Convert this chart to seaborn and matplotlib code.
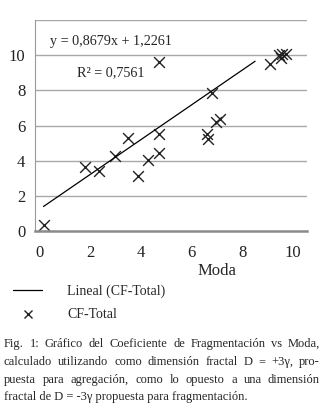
import numpy as np
import pandas as pd
import matplotlib
matplotlib.use("Agg")
import matplotlib.pyplot as plt
import seaborn as sns
from matplotlib.lines import Line2D

# values
moda = [0.2, 1.8, 2.35, 3.0, 3.5, 3.9, 4.3, 4.7, 4.7, 4.7, 6.6, 6.65, 6.8, 6.95, 7.1,
        9.1, 9.45, 9.5, 9.55, 9.7]
cf_total = [0.35, 3.65, 3.4, 4.25, 5.3, 3.1, 4.05, 4.45, 5.5, 9.6, 5.5, 5.25, 7.85, 6.2, 6.4,
            9.5, 10.0, 9.85, 10.1, 10.05]
trend_x = [0.17, 8.5]
trend_y = [1.39, 9.66]
eq_text = "y = 0,8679x + 1,2261"
r2_text = "R² = 0,7561"
caption = [
    "Fig. 1: Gráfico del Coeficiente de Fragmentación vs Moda,",
    "calculado utilizando como dimensión fractal D = +3γ, pro-",
    "puesta para agregación, como lo opuesto a una dimensión",
    "fractal de D = -3γ propuesta para fragmentación.",
]

df = pd.DataFrame({"Moda": moda, "CF-Total": cf_total})

sns.set_style("white")
plt.rcParams["font.family"] = ["Liberation Serif", "DejaVu Serif"]

fig = plt.figure(figsize=(3.22, 4.03), dpi=100)
ax = fig.add_axes([0.109, 0.427, 0.845, 0.523])

sns.lineplot(x=trend_x, y=trend_y, ax=ax, color="black", linewidth=0.9)
sns.scatterplot(data=df, x="Moda", y="CF-Total", ax=ax, marker="x", s=60,
                color="#222222", linewidth=1.0)

ax.set_xlim(-0.16, 10.55)
ax.set_ylim(0, 12)
ax.set_xticks(range(0, 11, 2))
ax.set_yticks(range(0, 11, 2))
for yv in [2, 4, 6, 8, 10, 12]:
    ax.axhline(yv, color="#a8a8a8", linewidth=1.0, zorder=0)
ax.tick_params(axis="both", length=0, labelsize=12, colors="#222222")
ax.tick_params(axis="x", pad=10)
ax.tick_params(axis="y", pad=7)
for side in ["top", "right"]:
    ax.spines[side].set_visible(False)
ax.spines["left"].set_color("#9a9a9a")
ax.spines["bottom"].set_color("#8a8a8a")
ax.spines["bottom"].set_linewidth(1.8)
ax.set_xlabel("")
ax.set_ylabel("")

ax.text(0.055, 0.9, eq_text, transform=ax.transAxes, fontsize=10.2, va="center")
ax.text(0.155, 0.752, r2_text, transform=ax.transAxes, fontsize=10.2, va="center")

fig.text(217 / 322, 1 - 271 / 403, "Moda", fontsize=12, ha="center", va="center")

handles = [Line2D([], [], color="black", linewidth=0.9),
           Line2D([], [], color="#222222", marker="x", linestyle="none", markersize=6)]
fig.legend(handles, ["Lineal (CF-Total)", "CF-Total"], loc="upper left",
           bbox_to_anchor=(13 / 322, 1 - 285 / 403), frameon=False, fontsize=10,
           borderpad=0, borderaxespad=0,
           handlelength=2.1, handletextpad=1.8, labelspacing=0.72)

# justified caption
fig.canvas.draw()
renderer = fig.canvas.get_renderer()
left_px, right_px = 4, 320
line_y = [344, 362, 380, 397]
for i, line in enumerate(caption):
    y = 1 - line_y[i] / 403
    words = line.split(" ")
    if i == len(caption) - 1:
        fig.text(left_px / 322, y, line, fontsize=9, va="center")
        continue
    arts = [fig.text(0, y, w, fontsize=9, va="center") for w in words]
    widths = [a.get_window_extent(renderer).width for a in arts]
    gap = (right_px - left_px - sum(widths)) / (len(words) - 1)
    x = left_px
    for a, w in zip(arts, widths):
        a.set_x(x / 322)
        x += w + gap

fig.savefig("out.png", dpi=100)
